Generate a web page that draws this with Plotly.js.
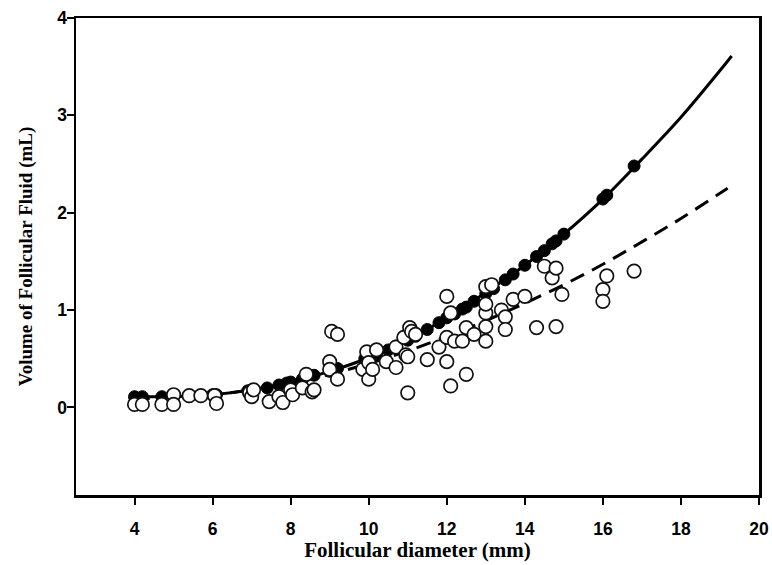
<!DOCTYPE html>
<html>
<head>
<meta charset="utf-8">
<script src="https://cdn.plot.ly/plotly-3.0.1.min.js"></script>
<style>html,body{margin:0;padding:0;background:#fff;}#chart{width:772px;height:565px;}</style>
</head>
<body>
<div id="chart"></div>
<script>
// Observed follicles (open circles)
const openX = [4.0,4.2,4.7,5.0,5.0,5.4,5.7,6.05,6.1,6.95,7.0,7.05,7.45,7.7,7.8,8.0,8.05,8.3,8.4,8.55,8.6,
  9.05,9.2,9.0,9.0,9.2,9.85,9.95,10.0,10.0,10.1,10.2,10.45,10.7,10.7,10.9,10.95,11.0,11.0,11.05,11.1,11.2,
  11.5,11.8,12.0,12.0,12.1,12.0,12.1,12.2,12.4,12.5,12.5,12.7,13.0,13.0,13.0,13.0,13.0,13.15,13.4,13.5,13.5,
  13.7,14.0,14.3,14.5,14.7,14.8,14.8,14.95,16.0,16.0,16.1,16.8];
const openY = [0.03,0.03,0.03,0.13,0.03,0.12,0.12,0.12,0.04,0.15,0.11,0.18,0.06,0.11,0.05,0.18,0.13,0.20,0.34,0.16,0.18,
  0.78,0.75,0.47,0.39,0.29,0.39,0.57,0.46,0.29,0.39,0.59,0.47,0.41,0.62,0.72,0.54,0.52,0.15,0.82,0.78,0.75,
  0.49,0.62,0.47,1.14,0.97,0.72,0.22,0.68,0.68,0.34,0.82,0.75,0.68,0.83,0.97,1.06,1.24,1.26,1.00,0.93,0.80,
  1.11,1.14,0.82,1.45,1.33,1.43,0.83,1.16,1.21,1.09,1.35,1.40];

// Calculated volumes (filled dots)
const calcX = [4.0,4.2,4.7,5.0,5.4,5.7,6.0,6.1,6.9,7.0,7.4,7.7,7.9,8.0,8.3,8.6,9.0,9.2,9.9,10.0,10.2,10.5,10.7,
  11.0,11.2,11.5,11.8,12.0,12.2,12.4,12.5,12.7,13.0,13.2,13.5,13.7,14.0,14.3,14.5,14.7,14.8,15.0,16.0,16.1,16.8];
const calcY = [0.11,0.11,0.11,0.11,0.11,0.12,0.13,0.13,0.17,0.18,0.20,0.23,0.25,0.26,0.29,0.33,0.37,0.40,0.50,0.51,0.55,0.59,0.63,
  0.69,0.73,0.80,0.87,0.92,0.96,1.01,1.03,1.09,1.17,1.22,1.31,1.37,1.46,1.55,1.61,1.68,1.71,1.78,2.14,2.18,2.48];

// Fitted curves
const fitX = [4,5,6,7,8,9,10,11,12,13,14,15,16,17,18,19,19.3];
const solidFit = [0.11,0.11,0.13,0.18,0.26,0.37,0.51,0.69,0.92,1.18,1.46,1.78,2.14,2.55,2.98,3.46,3.61];
const dashedFit = [0.09,0.10,0.13,0.18,0.25,0.34,0.45,0.58,0.73,0.89,1.07,1.26,1.47,1.70,1.94,2.20,2.28];

const xTicks = [4,6,8,10,12,14,16,18,20];
const yTicks = [0,1,2,3,4];

const traces = [
  {x: fitX, y: dashedFit, mode: 'lines', line: {color: '#000', width: 3, dash: '15px,9px', shape: 'spline'}, hoverinfo: 'skip'},
  {x: fitX, y: solidFit, mode: 'lines', line: {color: '#000', width: 3, shape: 'spline'}, hoverinfo: 'skip'},
  {x: calcX, y: calcY, mode: 'markers', marker: {symbol: 'circle', size: 12, color: '#000', line: {color: '#000', width: 1}}},
  {x: openX, y: openY, mode: 'markers', marker: {symbol: 'circle', size: 13.5, color: '#fff', line: {color: '#111', width: 1.7}}}
];

const tickFont = {family: '"Liberation Sans", Arial, sans-serif', size: 17.5, color: '#000', weight: 'bold'};
const titleFontX = {family: '"Liberation Serif", "Times New Roman", serif', size: 21, color: '#000', weight: 'bold'};
const titleFontY = {family: '"Liberation Serif", "Times New Roman", serif', size: 19, color: '#000', weight: 'bold'};

const layout = {
  width: 772, height: 565,
  margin: {l: 76, r: 13, t: 18, b: 70},
  paper_bgcolor: '#fff', plot_bgcolor: '#fff',
  showlegend: false,
  xaxis: {
    range: [2.5, 20], tickvals: xTicks, ticktext: xTicks.map(String),
    ticks: 'outside', ticklen: 7, tickwidth: 2, tickcolor: '#000',
    showline: true, linewidth: 2.5, linecolor: '#000', mirror: true,
    showgrid: false, zeroline: false, tickfont: tickFont, ticklabelstandoff: 9,
    title: {text: 'Follicular diameter (mm)', font: titleFontX, standoff: 4}
  },
  yaxis: {
    range: [-0.9, 4], tickvals: yTicks, ticktext: yTicks.map(String),
    ticks: 'outside', ticklen: 7, tickwidth: 2, tickcolor: '#000',
    showline: true, linewidth: 2.5, linecolor: '#000', mirror: true,
    showgrid: false, zeroline: false, tickfont: tickFont, ticklabelstandoff: -4,
    title: {text: 'Volume of Follicular Fluid (mL)', font: titleFontY, standoff: 20}
  }
};

Plotly.newPlot('chart', traces, layout, {staticPlot: true, displayModeBar: false});
</script>
</body>
</html>
